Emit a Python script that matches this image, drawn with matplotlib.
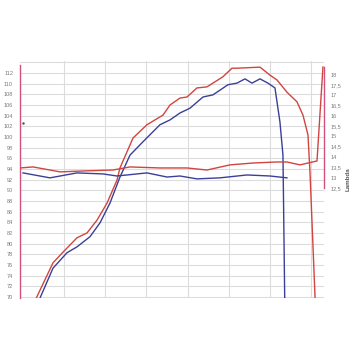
import matplotlib.pyplot as plt
import numpy as np

# engine speed (rpm) and power readings
red_rpm = [1248, 1733, 1976, 2316, 2558, 2801, 3044, 3286, 3359, 3675, 4014, 4403, 4573, 4815,
           4985, 5228, 5471, 5859, 6077, 6199, 6757, 7000, 7170, 7412, 7655, 7801, 7922, 7971, 8116]
red_power = [68.5, 76.4, 78.4, 81.1, 82.0, 84.4, 87.6, 91.9, 94.2, 99.8, 102.3, 104.1, 106.0, 107.3,
             107.5, 109.2, 109.4, 111.3, 112.9, 112.9, 113.1, 111.6, 110.7, 108.4, 106.6, 104.1, 100.4, 93.4, 65.7]

blue_rpm = [1345, 1733, 2073, 2316, 2631, 2874, 3116, 3359, 3602, 3917, 4330, 4573, 4815, 5058,
            5374, 5616, 5980, 6199, 6393, 6563, 6757, 6951, 7121, 7242, 7315, 7364]
blue_power = [68.5, 75.4, 78.3, 79.4, 81.3, 83.9, 87.6, 92.5, 96.6, 99.1, 102.3, 103.2, 104.5, 105.4,
              107.5, 107.9, 109.8, 110.1, 110.9, 110.1, 110.9, 110.1, 109.2, 102.8, 96.6, 65.7]

red_lam_rpm = [932, 1248, 1903, 2558, 3189, 3602, 4330, 4985, 5471, 6029, 6587, 7170, 7412, 7728, 8141, 8286]
red_lambda = [13.47, 13.52, 13.28, 13.33, 13.37, 13.52, 13.47, 13.47, 13.37, 13.62, 13.71, 13.76, 13.76,
              13.62, 13.81, 18.37]

blue_lam_rpm = [1005, 1660, 2316, 2947, 3286, 4014, 4500, 4815, 5228, 5786, 6441, 7000, 7412]
blue_lambda = [13.23, 12.99, 13.23, 13.18, 13.08, 13.23, 13.03, 13.08, 12.94, 12.99, 13.13, 13.08, 12.99]

left_ticks = list(range(70, 113, 2))
right_ticks = list(np.arange(12.5, 18.01, 0.5))
right_labels = [('%g' % t).replace('.', ',') for t in right_ticks]

red = '#d0453f'
blue = '#3b3f98'
pink = '#d4507e'

fig = plt.figure(figsize=(3.5, 3.5), dpi=100)
ax = fig.add_axes([0.0571, 0.1486, 0.8686, 0.6771])
ax2 = ax.twinx()

# grid
for x in range(2000, 8001, 1000):
    ax.axvline(x, color='#dcdcdc', lw=0.8, zorder=0)
for y in range(70, 115, 2):
    ax.axhline(y, color='#dcdcdc', lw=0.8, zorder=0)

ax.plot(red_rpm, red_power, color=red, lw=1.0)
ax.plot(blue_rpm, blue_power, color=blue, lw=1.0)
ax.plot([1005], [102.6], 'o', color='#555555', ms=0.8)

ax2.plot(red_lam_rpm, red_lambda, color=red, lw=1.0)
ax2.plot(blue_lam_rpm, blue_lambda, color=blue, lw=1.0)

ax.set_xlim(932, 8311)
ax.set_ylim(69.81, 114.25)
ax2.set_ylim(7.16, 18.66)

ax.set_xticks([])
ax.set_yticks(left_ticks)
ax.tick_params(axis='y', length=0, pad=5, labelsize=4, labelcolor='#7a7a7a')
for lab in ax.get_yticklabels():
    lab.set_fontfamily('Liberation Sans')

ax2.set_yticks(right_ticks)
ax2.set_yticklabels(right_labels)
ax2.tick_params(axis='y', length=0, pad=5, labelsize=4, labelcolor='#7a7a7a')
for lab in ax2.get_yticklabels():
    lab.set_fontfamily('Liberation Sans')
ax2.set_ylabel('Lambda', fontsize=4.5, fontweight='bold', color='#555555',
               family='Liberation Sans', labelpad=3)

for a in (ax, ax2):
    a.spines['top'].set_visible(False)
    a.spines['bottom'].set_visible(False)
    a.spines['left'].set_visible(False)
    a.spines['right'].set_visible(False)
ax.spines['left'].set_visible(True)
ax.spines['left'].set_color(pink)
ax.spines['left'].set_linewidth(1.0)
ax.spines['left'].set_bounds(69.81, 113.5)
ax2.spines['right'].set_visible(True)
ax2.spines['right'].set_color(pink)
ax2.spines['right'].set_linewidth(1.0)
ax2.spines['right'].set_bounds(12.5, 18.37)

fig.savefig('out.png', dpi=100)
